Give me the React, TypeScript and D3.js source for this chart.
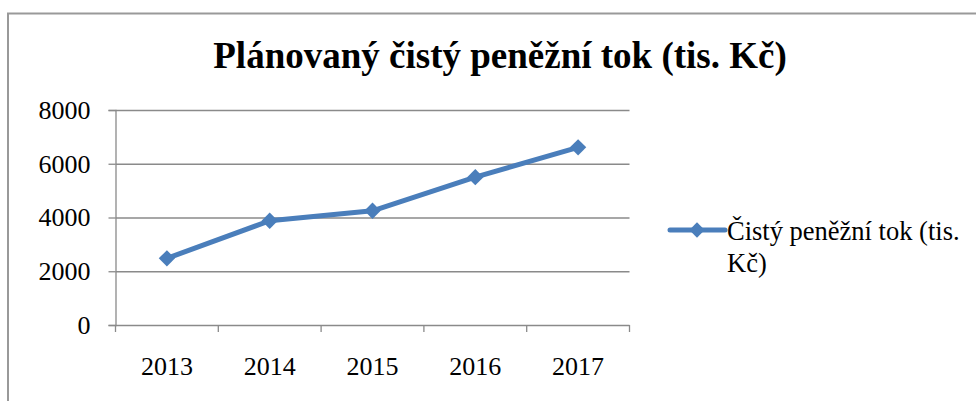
import React, { useRef, useEffect } from "react";
import * as d3 from "d3";

const years: string[] = ["2013", "2014", "2015", "2016", "2017"];
const cashFlow: number[] = [2480, 3880, 4250, 5500, 6610];
const yTicks: number[] = [0, 2000, 4000, 6000, 8000];
const title = "Plánovaný čistý peněžní tok (tis. Kč)";
const legendLines: string[] = ["Čistý peněžní tok (tis.", "Kč)"];

const FONT = "Liberation Serif, Times New Roman, serif";
const BLUE = "#4a7ebb";
const GRID = "#8a8a8a";

const App: React.FC = () => {
  const ref = useRef<SVGSVGElement | null>(null);
  const width = 976;
  const height = 401;
  const plot = { left: 115.5, right: 629.5, top: 110, bottom: 325 };

  useEffect(() => {
    const svg = d3.select(ref.current).attr("width", width).attr("height", height);
    svg.selectAll("*").remove();

    // outer chart frame (only top and left edge visible)
    svg
      .append("path")
      .attr("d", `M8,${height} L8,13.5 L${width},13.5`)
      .attr("fill", "none")
      .attr("stroke", "#999")
      .attr("stroke-width", 2);

    svg
      .append("text")
      .attr("x", 500)
      .attr("y", 68)
      .attr("text-anchor", "middle")
      .style("font-family", FONT)
      .attr("font-weight", "bold")
      .attr("font-size", 37)
      .attr("fill", "#000")
      .text(title);

    const xBand = d3
      .scaleBand<string>()
      .domain(years)
      .range([plot.left, plot.right]);

    const yScale = d3
      .scaleLinear()
      .domain([0, 8000])
      .range([plot.bottom, plot.top]);

    // gridlines + y ticks
    const yAxis = svg
      .append("g")
      .attr("transform", `translate(${plot.left},0)`)
      .call(
        d3
          .axisLeft(yScale)
          .tickValues(yTicks)
          .tickSize(7)
          .tickPadding(18)
          .tickFormat((d) => String(d))
      );
    yAxis.select(".domain").attr("stroke", GRID).attr("stroke-width", 1.3);
    yAxis.selectAll(".tick line").attr("stroke", GRID).attr("stroke-width", 1.3);
    yAxis
      .selectAll(".tick")
      .append("line")
      .attr("x1", 0)
      .attr("x2", plot.right - plot.left)
      .attr("stroke", GRID)
      .attr("stroke-width", 1.3);
    yAxis
      .selectAll(".tick text")
      .style("font-family", FONT)
      .style("font-size", "26px")
      .attr("fill", "#000");

    // x axis with ticks at category boundaries
    const xAxis = svg.append("g").attr("transform", `translate(0,${plot.bottom})`);
    const bounds = years.map((y) => xBand(y) as number).concat([plot.right]);
    xAxis
      .selectAll("line.tk")
      .data(bounds)
      .join("line")
      .attr("x1", (d) => d)
      .attr("x2", (d) => d)
      .attr("y1", 0)
      .attr("y2", 7)
      .attr("stroke", GRID)
      .attr("stroke-width", 1.3);
    xAxis
      .selectAll("text")
      .data(years)
      .join("text")
      .attr("x", (d) => (xBand(d) as number) + xBand.bandwidth() / 2)
      .attr("y", 50)
      .attr("text-anchor", "middle")
      .style("font-family", FONT)
      .style("font-size", "26px")
      .attr("fill", "#000")
      .text((d) => d);

    const cx = (i: number) => (xBand(years[i]) as number) + xBand.bandwidth() / 2;

    const line = d3
      .line<number>()
      .x((_, i) => cx(i))
      .y((d) => yScale(d));

    svg
      .append("path")
      .datum(cashFlow)
      .attr("fill", "none")
      .attr("stroke", BLUE)
      .attr("stroke-width", 5)
      .attr("stroke-linejoin", "round")
      .attr("d", line);

    const diamond = d3.symbol().type(d3.symbolDiamond2).size(170);
    svg
      .selectAll("path.pt")
      .data(cashFlow)
      .join("path")
      .attr("class", "pt")
      .attr("transform", (d, i) => `translate(${cx(i)},${yScale(d)})`)
      .attr("d", diamond)
      .attr("fill", BLUE);

    // legend
    const lg = svg.append("g");
    lg.append("line")
      .attr("x1", 670)
      .attr("x2", 725)
      .attr("y1", 230)
      .attr("y2", 230)
      .attr("stroke", BLUE)
      .attr("stroke-width", 5)
      .attr("stroke-linecap", "round");
    lg.append("path")
      .attr("transform", "translate(697,230)")
      .attr("d", d3.symbol().type(d3.symbolDiamond2).size(150))
      .attr("fill", BLUE);
    lg.selectAll("text")
      .data(legendLines)
      .join("text")
      .attr("x", 727)
      .attr("y", (_, i) => 240 + i * 32)
      .style("font-family", FONT)
      .style("font-size", "26.5px")
      .attr("fill", "#000")
      .text((d) => d);
  }, []);

  return (
    <svg
      ref={ref}
      style={{ position: "absolute", left: 0, top: 0, background: "#fff" }}
    ></svg>
  );
};

export default App;
